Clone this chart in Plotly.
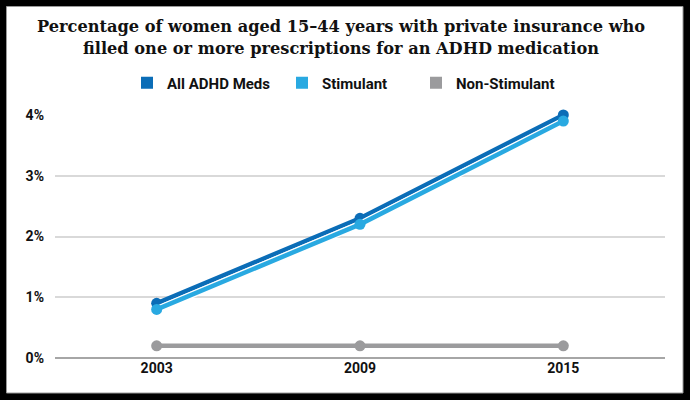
import plotly.graph_objects as go

years = ["2003", "2009", "2015"]
all_meds = [0.9, 2.3, 4.0]
stimulant = [0.8, 2.2, 3.9]
non_stimulant = [0.2, 0.2, 0.2]
y_ticks = [0, 1, 2, 3, 4]
y_tick_labels = ["0%", "1%", "2%", "3%", "4%"]
title_lines = ["Percentage of women aged 15–44 years with private insurance who",
               "filled one or more prescriptions for an ADHD medication"]

c_all = "#0b6db7"
c_stim = "#29a9e1"
c_non = "#9b9b9d"

L, R, T, B, W, H = 55, 25, 115, 42, 690, 400
pw, ph = W - L - R, H - T - B
def px(x): return (x - L) / pw
def py(y): return (H - B - y) / ph

fig = go.Figure()

def add_series(name, vals, color, legend_id, outline=False):
    if outline:
        fig.add_trace(go.Scatter(x=years, y=vals, mode="lines",
                                 line=dict(color="white", width=7),
                                 showlegend=False, hoverinfo="skip"))
    fig.add_trace(go.Scatter(x=years, y=vals, mode="lines+markers", name=name,
                             line=dict(color=color, width=4.5),
                             marker=dict(color=color, size=11),
                             showlegend=False, cliponaxis=False))
    fig.add_trace(go.Scatter(x=[None], y=[None], mode="markers", name=name,
                             marker=dict(color=color, size=12, symbol="square"),
                             showlegend=True, legend=legend_id))

add_series("All ADHD Meds", all_meds, c_all, "legend")
add_series("Stimulant", stimulant, c_stim, "legend2", outline=True)
add_series("Non-Stimulant", non_stimulant, c_non, "legend3")

fig.add_shape(type="rect", xref="paper", yref="paper",
              x0=px(3), x1=px(686.5), y0=py(3), y1=py(396.5),
              line=dict(color="black", width=7), layer="above")
fig.add_shape(type="rect", xref="paper", yref="paper",
              x0=px(6.5), x1=px(683), y0=py(6.5), y1=py(393),
              line=dict(color="#9a9a9a", width=1), layer="above")

title_font = dict(family="DejaVu Serif", size=16.2, color="#111111", weight="bold")
for line, ypix in zip(title_lines, [26, 49]):
    fig.add_annotation(text=line, xref="paper", yref="paper", x=px(341), y=py(ypix),
                       xanchor="center", yanchor="middle", showarrow=False, font=title_font)

legend_font = dict(family="Roboto", size=15, color="#111111", weight="bold")
def legend_at(xpix):
    return dict(orientation="h", x=px(xpix), xanchor="left", y=py(83), yanchor="middle",
                font=legend_font, itemclick=False, itemdoubleclick=False,
                bgcolor="rgba(0,0,0,0)")

fig.update_layout(
    width=W, height=H,
    margin=dict(l=L, r=R, t=T, b=B),
    paper_bgcolor="white", plot_bgcolor="white",
    legend=legend_at(127),
    legend2=legend_at(282),
    legend3=legend_at(416),
    xaxis=dict(type="category", range=[-0.5, 2.5], showgrid=False, showline=False,
               zeroline=False, ticks="",
               tickfont=dict(family="Roboto", size=14, color="#111111", weight="bold")),
    yaxis=dict(range=[0, 4], tickvals=y_ticks, ticktext=y_tick_labels,
               showgrid=True, gridcolor="#d9d9d9", gridwidth=1.5,
               zeroline=True, zerolinecolor="#a6a6a6", zerolinewidth=1.5,
               showline=False, ticks="", ticklabelstandoff=10,
               tickfont=dict(family="Roboto", size=14, color="#111111", weight="bold")),
    showlegend=True,
)

fig.write_html("out.html", config={"displayModeBar": False},
               post_script="document.body.style.margin='0';")
